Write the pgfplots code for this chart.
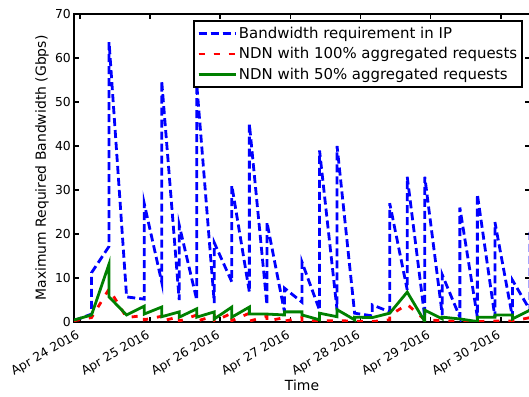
\documentclass[border=0pt]{standalone}
\usepackage{pgfplots}
\pgfplotsset{compat=1.18}
\usepackage{fontspec}
\setmainfont{DejaVu Sans}
\definecolor{mplgreen}{rgb}{0,0.5,0}
\begin{document}
\begin{tikzpicture}
\path[use as bounding box] (0,0) rectangle (529bp,397bp);
\begin{axis}[
  at={(74bp,75bp)}, anchor=south west,
  scale only axis, width=456bp, height=308bp,
  xmin=-2, xmax=154, ymin=0, ymax=70,
  xtick={0,24,48,72,96,120,144},
  xticklabels={Apr 24 2016,Apr 25 2016,Apr 26 2016,Apr 27 2016,Apr 28 2016,Apr 29 2016,Apr 30 2016},
  ytick={0,10,...,70},
  /pgf/number format/assume math mode=true,
  tick align=inside, tick pos=both,
  major tick length=5bp,
  major tick style={line width=1.5bp, black},
  axis line style={line width=2bp},
  tick label style={font=\fontsize{12.4}{14}\selectfont},
  xticklabel style={rotate=30, anchor=north east, inner sep=2bp, yshift=-2bp, xshift=-5bp},
  yticklabel style={inner sep=3bp},
  xlabel={Time},
  ylabel={Maximum Required Bandwidth (Gbps)},
  label style={font=\fontsize{14}{16}\selectfont},
  xlabel style={at={(axis description cs:0.5,-0.205)}, anchor=center},
  ylabel style={at={(axis description cs:-0.070,0.5)}, anchor=center, rotate=0},
  legend style={at={(rel axis cs:0.985,0.98)}, anchor=north east,
    draw=black, line width=2bp, font=\fontsize{15}{18}\selectfont,
    inner xsep=3bp, inner ysep=4bp, row sep=3.5bp},
  legend cell align=left,
  legend image code/.code={\draw[#1] (0bp,0bp) -- (28bp,0bp); \path (0bp,0bp) -- (37bp,0bp);},
]
\addplot[blue, line width=2.8bp, dash pattern=on 8bp off 4bp] coordinates {
(-2,0.3) (4,1.8) (4,11.2) (10,17.2) (10,63.6) (16,5.7) (22,5.2) (22,27) (28,9.1) (28,54.8)
(34,5.0) (34,22) (40,5.0) (40,54) (46,4.3) (46,18) (52,9.1) (52,31) (58,6.8) (58,45)
(64,3.9) (64,22.7) (70,2.3) (70,7.7) (76,4.5) (76,13.6) (82,2.7) (82,39) (88,2.7) (88,40)
(94,2.0) (100,1.4) (100,3.9) (106,2.3) (106,27) (112,7.3) (112,33) (118,1.1) (118,33)
(124,1.6) (124,10.7) (130,1.1) (130,26) (136,1.1) (136,29) (142,1.1) (142,22.7)
(148,1.1) (148,9.5) (154,2.7) (154,21)
};
\addlegendentry{Bandwidth requirement in IP}
\addplot[red, line width=2.8bp, dash pattern=on 6bp off 9bp] coordinates {
(-2,0.3) (4,1.0) (10,7.5) (16,1.0) (22,1.5) (22,0.5) (28,1.3) (28,0.2) (34,1.2) (34,0.2)
(40,1.6) (40,0.2) (46,1.4) (46,0.2) (52,2.0) (52,0.3) (58,2.0) (58,0.2) (64,1.3) (64,0.2)
(70,1.0) (70,0.2) (76,1.0) (76,0.2) (82,0.3) (88,0.3) (94,0.2) (100,0.1) (106,0.5) (106,1.5)
(112,4.0) (118,0.5) (124,0.3) (130,0.1) (136,0.1) (142,0.2) (148,0.2) (154,1.0)
};
\addlegendentry{NDN with 100\% aggregated requests}
\addplot[mplgreen, line width=2.8bp] coordinates {
(-2,0.45) (4,1.6) (10,13.2) (10,5.7) (16,1.6) (22,3.6) (22,1.8) (28,3.4) (28,1.2)
(34,2.3) (34,1.1) (40,3.0) (40,1.1) (46,2.3) (46,0.7) (52,3.4) (52,1.1) (58,3.4) (58,1.8)
(64,1.8) (70,1.6) (70,2.3) (76,2.3) (76,1.6) (82,0.5) (82,2.0) (88,1.2) (88,2.8) (94,0.5)
(94,1.1) (100,1.0) (106,2.0) (112,6.8) (118,0.1) (118,2.7) (124,0.7) (124,1.1) (130,0.7)
(136,0.1) (136,1.1) (142,1.1) (142,1.6) (148,1.6) (148,0.7) (154,2.7)
};
\addlegendentry{NDN with 50\% aggregated requests}
\end{axis}
\end{tikzpicture}
\end{document}
